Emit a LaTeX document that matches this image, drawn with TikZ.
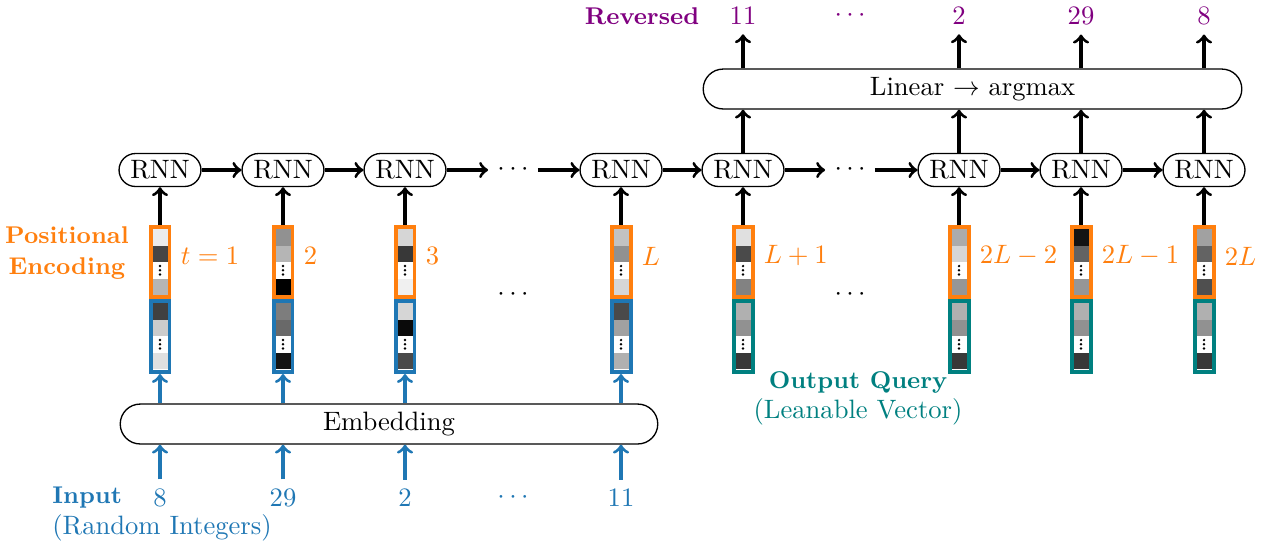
\documentclass[tikz,border=0pt]{standalone}
\usetikzlibrary{calc}
\definecolor{tblue}{HTML}{1F77B4}
\definecolor{torange}{HTML}{FF7F0E}
\definecolor{tteal}{RGB}{0,128,128}
\definecolor{tpurple}{RGB}{128,0,128}
\newcommand\drawcells[5]{%
  \fill[black!#3] (#1-7.5,#2) rectangle (#1+7.5,#2+16.5);
  \fill[black!#4] (#1-7.5,#2+16.5) rectangle (#1+7.5,#2+33);
  \fill[white] (#1-7.5,#2+33) rectangle (#1+7.5,#2+49.5);
  \foreach \d in {-4.2,0,4.2} {\fill (#1,#2+41.25+\d) circle (0.5pt);}
  \fill[black!#5] (#1-7.5,#2+49.5) rectangle (#1+7.5,#2+66);
}
\newcommand\bsmall{\fontsize{9.1pt}{11.3pt}\selectfont\bfseries}
\begin{document}
\begin{tikzpicture}[x=0.013215cm,y=-0.013215cm,
  rnn/.style={draw,rounded corners=6.2pt,minimum width=30.8pt,minimum height=12.4pt,inner sep=0pt,line width=0.5pt},
  bigbox/.style={draw,rounded corners=7.5pt,minimum height=15pt,inner sep=0pt,line width=0.5pt},
  arr/.style={->,very thick},
  barr/.style={->,very thick,tblue},
  pebox/.style={draw=torange,line width=1.5pt,minimum width=7.14pt,minimum height=26.3pt,inner sep=0pt},
  inbox/.style={draw=tblue,line width=1.5pt,minimum width=7.14pt,minimum height=26.7pt,inner sep=0pt},
  qbox/.style={draw=tteal,line width=1.5pt,minimum width=7.14pt,minimum height=26.7pt,inner sep=0pt},
  lbl/.style={torange,anchor=west},
  outnum/.style={tpurple},
  innum/.style={tblue},
  twoline/.style={align=center,execute at begin node={\baselineskip=11.3pt}}]
\useasboundingbox (0,0) rectangle (1263,546);

% RNN row
\foreach \i/\x in {1/160,2/283,3/405,4/621,5/743,6/959,7/1081,8/1204}{
  \node[rnn] (r\i) at (\x,170) {RNN};
}
\node (rd1) at (513,170) {$\cdots$};
\node (rd2) at (850,170) {$\cdots$};
\draw[arr] (r1) -- (r2);
\draw[arr] (r2) -- (r3);
\draw[arr] (r3) -- (rd1);
\draw[arr] (rd1) -- (r4);
\draw[arr] (r4) -- (r5);
\draw[arr] (r5) -- (rd2);
\draw[arr] (rd2) -- (r6);
\draw[arr] (r6) -- (r7);
\draw[arr] (r7) -- (r8);

% vectors
\foreach \i/\x in {1/160,2/283,3/405,4/621,5/743,6/959,7/1081,8/1204}{
  \node[pebox] (p\i) at (\x,262) {};
  \draw[arr] (p\i.north) -- (r\i.south);
}
\foreach \i/\x in {1/160,2/283,3/405,4/621}{
  \node[inbox] (q\i) at (\x,336.5) {};
}
\foreach \i/\x in {5/743,6/959,7/1081,8/1204}{
  \node[qbox] (q\i) at (\x,336.5) {};
}
% positional encoding cells
\drawcells{160}{229}{8}{73}{29}
\drawcells{283}{229}{43}{29}{100}
\drawcells{405}{229}{16}{78}{6}
\drawcells{621}{229}{24}{43}{16}
\drawcells{743}{229}{12}{71}{49}
\drawcells{959}{229}{33}{16}{41}
\drawcells{1081}{229}{92}{61}{41}
\drawcells{1204}{229}{37}{61}{69}
% input embedding cells
\drawcells{160}{303}{75}{20}{12}
\drawcells{283}{303}{51}{59}{92}
\drawcells{405}{303}{16}{96}{71}
\drawcells{621}{303}{71}{37}{31}
% output query cells
\drawcells{743}{303}{31}{43}{78}
\drawcells{959}{303}{31}{43}{78}
\drawcells{1081}{303}{31}{43}{78}
\drawcells{1204}{303}{31}{43}{78}

% time labels
\node[lbl] (t1) at ($(p1.east)+(0,-6)$) {$t=1$};
\node[lbl] (t2) at ($(p2.east)+(0,-6)$) {$2$};
\node[lbl] (t3) at ($(p3.east)+(0,-6)$) {$3$};
\node[lbl] (t4) at ($(p4.east)+(0,-6)$) {$L$};
\node[lbl] (t5) at ($(p5.east)+(0,-6)$) {$L+1$};
\node[lbl] (t6) at ($(p6.east)+(0,-6)$) {$2L-2$};
\node[lbl] (t7) at ($(p7.east)+(0,-6)$) {$2L-1$};
\node[lbl] (t8) at ($(p8.east)+(0,-6)$) {$2L$};

\node (vd1) at (513,295) {$\cdots$};
\node (vd2) at (850,295) {$\cdots$};

\node[torange,font=\bsmall,twoline] (pos) at (67,253) {Positional\\Encoding};
\node[tteal,twoline] (oq) at (858,398) {{\bsmall Output Query}\\(Leanable Vector)};

% embedding
\node[bigbox,minimum width=202.1pt] (emb) at (389,424) {Embedding};
\foreach \i/\x/\v in {1/160/8,2/283/29,3/405/2,4/621/11}{
  \node[innum] (n\i) at (\x,498) {\v};
  \draw[barr] (q\i |- emb.north) -- (q\i.south);
  \draw[barr] (n\i.north) -- (n\i |- emb.south);
}
\node[innum] (nd) at (513,498) {$\cdots$};
\node[tblue,twoline,align=left,anchor=west] (inp) at (43,514) {{\bsmall Input}\\(Random Integers)};

% linear
\node[bigbox,minimum width=202.5pt] (lin) at (972.5,89) {Linear $\to$ argmax};
\foreach \i/\x/\v in {5/743/11,6/959/2,7/1081/29,8/1204/8}{
  \node[outnum] (o\i) at (\x,16) {\v};
  \draw[arr] (r\i.north) -- (r\i |- lin.south);
  \draw[arr] (o\i |- lin.north) -- (o\i.south);
}
\node[outnum] (od) at (850,16) {$\cdots$};
\node[tpurple,font=\bsmall] (rev) at (642,16) {Reversed};
\end{tikzpicture}
\end{document}
